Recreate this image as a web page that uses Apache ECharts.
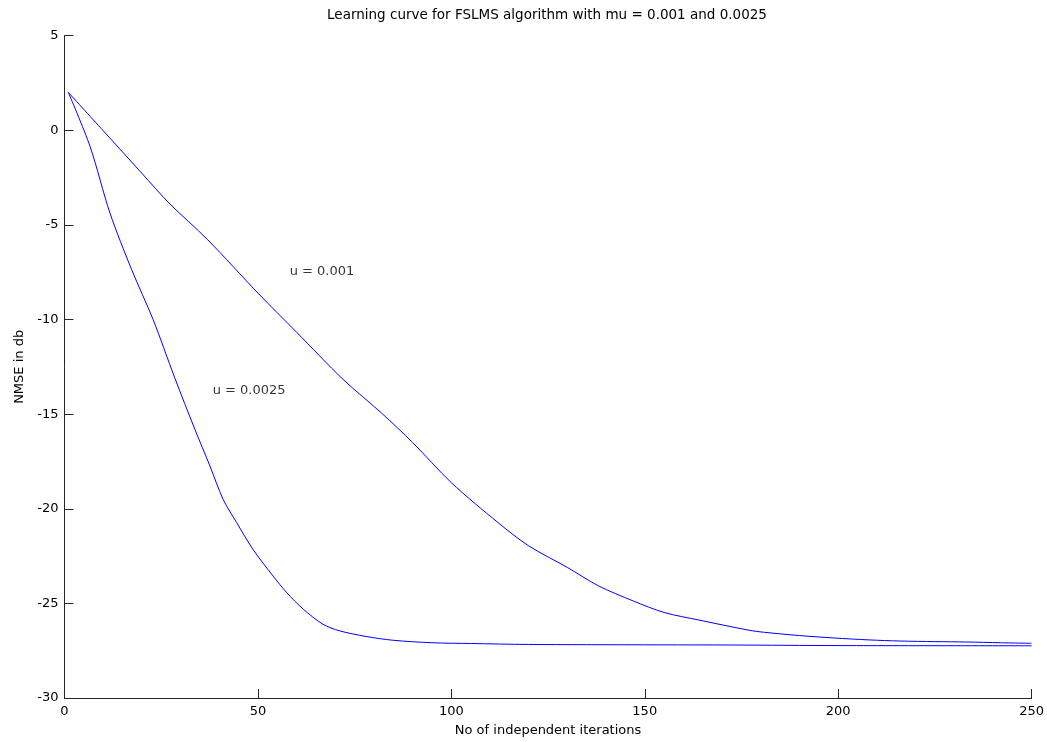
<!DOCTYPE html>
<html>
<head>
<meta charset="utf-8">
<script src="https://cdn.jsdelivr.net/npm/echarts@6/dist/echarts.min.js"></script>
<style>html,body{margin:0;padding:0;background:#fff;}#c{width:1047px;height:742px;}</style>
</head>
<body>
<div id="c"></div>
<script>
// Data
var titleText = 'Learning curve for FSLMS algorithm with mu = 0.001 and 0.0025';
var xAxisName = 'No of independent iterations';
var yAxisName = 'NMSE in db';

var xTicks = [0, 50, 100, 150, 200, 250];
var yTicks = [-30, -25, -20, -15, -10, -5, 0, 5];

// mu = 0.001
var slowX = [1, 10, 20, 27, 37, 50, 60, 72, 82, 90, 100, 112, 120, 130, 138, 147, 155, 164, 177, 181, 190, 199, 208, 216, 225, 233, 242, 250];
var slowY = [2, -0.02, -2.27, -3.84, -5.78, -8.6, -10.67, -13.16, -14.95, -16.5, -18.62, -20.72, -21.96, -23.1, -24.07, -24.87, -25.48, -25.88, -26.42, -26.53, -26.7, -26.83, -26.93, -26.99, -27.02, -27.04, -27.08, -27.11];

// mu = 0.0025
var fastX = [1, 6.6, 11.75, 17.35, 22.9, 28.5, 33.7, 37.6, 41, 44.5, 48.7, 53.9, 57.4, 61.7, 66.8, 71.1, 78, 85, 95, 105, 120, 150, 173, 200, 250];
var fastY = [2, -0.85, -4.37, -7.36, -10.0, -13.08, -15.8, -17.74, -19.5, -20.73, -22.14, -23.55, -24.42, -25.3, -26.1, -26.45, -26.75, -26.95, -27.08, -27.12, -27.17, -27.19, -27.2, -27.23, -27.24];

// text annotations inside the plot
var noteTexts = ['u = 0.001', 'u = 0.0025'];
var noteX = [58.2, 38.3];
var noteY = [-7.47, -13.75];

function pairs(xs, ys) { return xs.map(function (x, i) { return [x, ys[i]]; }); }

var FONT = 'DejaVu Sans';
var AXC = '#262626';

var chart = echarts.init(document.getElementById('c'), null, {renderer: 'canvas'});
chart.setOption({
  animation: false,
  backgroundColor: '#fff',
  title: {
    text: titleText,
    left: 542, top: 3, textAlign: 'center',
    textStyle: {fontFamily: FONT, fontSize: 13.5, fontWeight: 'normal', color: '#000'}
  },
  grid: {left: 64.5, right: 14.3, top: 35.7, bottom: 43, containLabel: false},
  xAxis: {
    type: 'value', min: xTicks[0], max: xTicks[xTicks.length - 1], interval: 50,
    name: xAxisName, nameLocation: 'middle', nameGap: 26,
    nameTextStyle: {fontFamily: FONT, fontSize: 13, color: '#000'},
    axisLine: {show: true, onZero: false, lineStyle: {color: AXC, width: 1}},
    axisTick: {show: true, inside: true, length: 9, lineStyle: {color: AXC}},
    axisLabel: {fontFamily: FONT, fontSize: 13, color: '#000', margin: 7},
    splitLine: {show: false}
  },
  yAxis: {
    type: 'value', min: yTicks[0], max: yTicks[yTicks.length - 1], interval: 5,
    name: yAxisName, nameLocation: 'middle', nameGap: 38, nameRotate: 90,
    nameTextStyle: {fontFamily: FONT, fontSize: 13, color: '#000'},
    axisLine: {show: true, onZero: false, lineStyle: {color: AXC, width: 1}},
    axisTick: {show: true, inside: true, length: 9, lineStyle: {color: AXC}},
    axisLabel: {fontFamily: FONT, fontSize: 13, color: '#000', margin: 6},
    splitLine: {show: false}
  },
  series: [
    {
      name: 'mu = 0.001', type: 'line', data: pairs(slowX, slowY),
      showSymbol: false, symbol: 'none', smooth: 0.3,
      lineStyle: {color: '#0000ff', width: 1}
    },
    {
      name: 'mu = 0.0025', type: 'line', data: pairs(fastX, fastY),
      showSymbol: false, symbol: 'none', smooth: 0.3,
      lineStyle: {color: '#0000ff', width: 1}
    },
    {
      name: 'notes', type: 'scatter', symbolSize: 0, silent: true,
      data: noteTexts.map(function (t, i) { return {value: [noteX[i], noteY[i]], name: t}; }),
      label: {
        show: true, position: 'right', distance: 0,
        formatter: function (p) { return p.name; },
        fontFamily: FONT, fontSize: 13, color: '#000'
      }
    }
  ]
});
</script>
</body>
</html>
